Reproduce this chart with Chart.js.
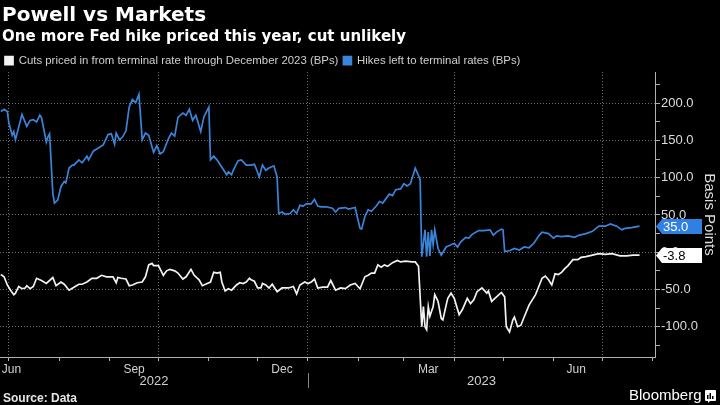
<!DOCTYPE html>
<html>
<head>
<meta charset="utf-8">
<script src="https://cdn.jsdelivr.net/npm/chart.js@4.4.0/dist/chart.umd.min.js"></script>
<style>
  html, body { margin: 0; padding: 0; background: #000; }
  #wrap { position: relative; width: 720px; height: 405px; background: #000; overflow: hidden; }
  #chart { position: absolute; left: 0; top: 0; }
  .title { position: absolute; left: 2px; top: 4px; color: #fff; font: bold 20px/20px "DejaVu Sans", sans-serif; white-space: nowrap; }
  .subtitle { position: absolute; left: 2px; top: 29px; color: #fff; font: bold 15px/15px "DejaVu Sans", sans-serif; white-space: nowrap; }
  .source { position: absolute; left: 3px; top: 392px; color: #e6e6e6; font: bold 12px/12px "Liberation Sans", Arial, sans-serif; }
  .brand { position: absolute; left: 629px; top: 387px; color: #fff; font: 15px/15px "Liberation Sans", Arial, sans-serif; }
  .logo { position: absolute; left: 705px; top: 390px; }
</style>
</head>
<body>
<div id="wrap">
  <canvas id="chart" width="720" height="405"></canvas>
  <div class="title">Powell vs Markets</div>
  <div class="subtitle">One more Fed hike priced this year, cut unlikely</div>
  <div class="source">Source: Data</div>
  <div class="brand">Bloomberg</div>
  <svg class="logo" width="11" height="13" viewBox="0 0 11 13">
    <path d="M1 0h9a1 1 0 0 1 1 1v9a1 1 0 0 1-1 1H5l-2 2v-2H1a1 1 0 0 1-1-1V1a1 1 0 0 1 1-1z" fill="#fff"/>
    <rect x="2" y="5" width="1.5" height="4" fill="#000"/>
    <rect x="4.5" y="3" width="1.5" height="6" fill="#000"/>
    <rect x="7" y="6" width="1.5" height="3" fill="#000"/>
  </svg>
</div>
<script>
// series: hikes left to terminal rate (blue)
const blueDates = [
  '2022-06-26','2022-06-28','2022-06-30','2022-07-01','2022-07-03','2022-07-04','2022-07-05','2022-07-07','2022-07-09','2022-07-12',
  '2022-07-14','2022-07-16','2022-07-18','2022-07-20','2022-07-21','2022-07-24','2022-07-25','2022-07-26','2022-07-28','2022-07-29',
  '2022-07-31','2022-08-02','2022-08-04','2022-08-05','2022-08-07','2022-08-09','2022-08-10','2022-08-13','2022-08-15','2022-08-18',
  '2022-08-19','2022-08-22','2022-08-25','2022-08-28','2022-08-31','2022-09-02','2022-09-04','2022-09-05','2022-09-07','2022-09-09',
  '2022-09-11','2022-09-13','2022-09-15','2022-09-17','2022-09-19','2022-09-21','2022-09-23','2022-09-25','2022-09-28','2022-09-30',
  '2022-10-02','2022-10-04','2022-10-07','2022-10-09','2022-10-11','2022-10-13','2022-10-16','2022-10-18','2022-10-20','2022-10-22',
  '2022-10-24','2022-10-27','2022-10-29','2022-11-01','2022-11-02','2022-11-04','2022-11-06','2022-11-09','2022-11-12','2022-11-13',
  '2022-11-15','2022-11-16','2022-11-19','2022-11-21','2022-11-24','2022-11-27','2022-11-29','2022-11-30','2022-12-02','2022-12-04',
  '2022-12-06','2022-12-08','2022-12-11','2022-12-13','2022-12-14','2022-12-16','2022-12-18','2022-12-21','2022-12-23','2022-12-25',
  '2022-12-27','2022-12-29','2022-12-31','2023-01-03','2023-01-05','2023-01-07','2023-01-09','2023-01-12','2023-01-16','2023-01-18',
  '2023-01-20','2023-01-24','2023-01-26','2023-01-30','2023-02-02','2023-02-03','2023-02-05','2023-02-07','2023-02-09','2023-02-12',
  '2023-02-14','2023-02-16','2023-02-20','2023-02-22','2023-02-24','2023-02-27','2023-03-01','2023-03-03','2023-03-05','2023-03-08',
  '2023-03-10','2023-03-11','2023-03-12','2023-03-14','2023-03-15','2023-03-16','2023-03-17','2023-03-18','2023-03-19','2023-03-20',
  '2023-03-22','2023-03-24','2023-03-27','2023-03-29','2023-04-01','2023-04-03','2023-04-05','2023-04-08','2023-04-10','2023-04-12',
  '2023-04-16','2023-04-19','2023-04-23','2023-04-25','2023-04-27','2023-04-30','2023-05-01','2023-05-02','2023-05-05','2023-05-08',
  '2023-05-11','2023-05-14','2023-05-17','2023-05-20','2023-05-23','2023-05-25','2023-05-29','2023-06-01','2023-06-03','2023-06-06',
  '2023-06-10','2023-06-14','2023-06-17','2023-06-21','2023-06-25','2023-06-29','2023-07-03','2023-07-06','2023-07-10','2023-07-13',
  '2023-07-15','2023-07-19','2023-07-24'
];
const blueValues = [
  189, 192, 189, 173, 157, 162, 151, 168, 185, 169,
  177, 178, 175, 184, 181, 148, 155, 159, 79, 66,
  70, 88, 95, 93, 113, 117, 117, 124, 120, 129,
  124, 136, 140, 144, 158, 159, 145, 160, 151, 155,
  163, 195, 205, 201, 212, 151, 160, 157, 134, 143,
  132, 135, 152, 160, 156, 181, 187, 184, 192, 177,
  184, 162, 182, 195, 124, 129, 124, 114, 104, 108,
  104, 110, 123, 124, 117, 117, 118, 113, 101, 117,
  110, 113, 116, 101, 52, 54, 51, 52, 57, 52,
  63, 62, 65, 65, 71, 62, 61, 61, 59, 54,
  59, 60, 58, 60, 32, 31, 48, 57, 55, 62,
  68, 66, 78, 76, 84, 85, 92, 89, 92, 113,
  103, 97, -6, 30, -6, 27, -5, 30, 10, 30,
  5, -4, 7, 9, 12, 7, 14, 20, 19, 24,
  29, 29, 30, 23, 27, 31, 30, 1, 2, 5,
  3, 7, 6, 12, 22, 27, 25, 19, 22, 21,
  22, 20, 23, 25, 28, 35, 35, 38, 35, 30,
  32, 33, 35.0
];

// series: cuts priced in through December 2023 (white)
const whiteDates = [
  '2022-06-26','2022-06-28','2022-06-30','2022-07-02','2022-07-04','2022-07-05','2022-07-07','2022-07-09','2022-07-11','2022-07-12',
  '2022-07-14','2022-07-16','2022-07-18','2022-07-21','2022-07-24','2022-07-28','2022-07-30','2022-08-02','2022-08-04','2022-08-07',
  '2022-08-10','2022-08-13','2022-08-15','2022-08-18','2022-08-21','2022-08-24','2022-08-27','2022-08-30','2022-09-03','2022-09-05',
  '2022-09-06','2022-09-08','2022-09-11','2022-09-13','2022-09-15','2022-09-18','2022-09-21','2022-09-23','2022-09-25','2022-09-27',
  '2022-09-28','2022-10-01','2022-10-04','2022-10-06','2022-10-08','2022-10-11','2022-10-13','2022-10-16','2022-10-18','2022-10-21',
  '2022-10-23','2022-10-26','2022-10-28','2022-10-31','2022-11-02','2022-11-04','2022-11-06','2022-11-08','2022-11-09','2022-11-11',
  '2022-11-13','2022-11-15','2022-11-18','2022-11-20','2022-11-22','2022-11-24','2022-11-26','2022-11-27','2022-11-29','2022-12-01',
  '2022-12-03','2022-12-04','2022-12-06','2022-12-08','2022-12-10','2022-12-13','2022-12-16','2022-12-20','2022-12-23','2022-12-25',
  '2022-12-27','2022-12-30','2023-01-01','2023-01-03','2023-01-05','2023-01-07','2023-01-10','2023-01-13','2023-01-15','2023-01-18',
  '2023-01-21','2023-01-24','2023-01-27','2023-01-30','2023-02-02','2023-02-05','2023-02-07','2023-02-09','2023-02-11','2023-02-13',
  '2023-02-15','2023-02-17','2023-02-19','2023-02-22','2023-02-25','2023-02-27','2023-03-02','2023-03-06','2023-03-08','2023-03-10',
  '2023-03-11','2023-03-12','2023-03-13','2023-03-14','2023-03-15','2023-03-16','2023-03-17','2023-03-19','2023-03-20','2023-03-22',
  '2023-03-24','2023-03-25','2023-03-27','2023-03-28','2023-03-30','2023-04-01','2023-04-04','2023-04-06','2023-04-09','2023-04-11',
  '2023-04-13','2023-04-15','2023-04-18','2023-04-21','2023-04-22','2023-04-24','2023-04-27','2023-04-30','2023-05-02','2023-05-03',
  '2023-05-05','2023-05-07','2023-05-08','2023-05-10','2023-05-12','2023-05-14','2023-05-17','2023-05-19','2023-05-21','2023-05-23',
  '2023-05-25','2023-05-27','2023-05-29','2023-05-31','2023-06-02','2023-06-04','2023-06-06','2023-06-08','2023-06-10','2023-06-13',
  '2023-06-16','2023-06-18','2023-06-21','2023-06-25','2023-06-29','2023-07-03','2023-07-07','2023-07-12','2023-07-16','2023-07-20',
  '2023-07-24'
];
const whiteValues = [
  -30, -33, -44, -51, -57, -55, -46, -49, -48, -45,
  -49, -46, -35, -38, -42, -34, -45, -40, -43, -51,
  -47, -43, -43, -40, -35, -35, -31, -33, -33, -41,
  -34, -35, -36, -45, -44, -41, -40, -33, -17, -15,
  -18, -18, -31, -25, -23, -25, -28, -36, -33, -23,
  -31, -37, -45, -42, -40, -27, -28, -27, -40, -52,
  -49, -51, -44, -41, -42, -40, -35, -37, -39, -48,
  -48, -42, -44, -48, -43, -53, -48, -48, -46, -56,
  -44, -40, -42, -40, -36, -48, -47, -47, -38, -51,
  -48, -49, -44, -42, -49, -33, -31, -28, -28, -17,
  -20, -17, -19, -14, -11, -13, -12, -13, -13, -19,
  -60, -100, -73, -100, -104, -73, -86, -73, -57, -66,
  -89, -91, -71, -62, -55, -62, -84, -77, -62, -69,
  -64, -53, -48, -55, -52, -66, -60, -54, -60, -100,
  -107, -91, -87, -100, -98, -87, -71, -64, -57, -46,
  -35, -32, -37, -44, -29, -30, -27, -22, -18, -10,
  -10, -7, -6, -4, -2, -3, -2, -5, -5, -4,
  -3.8
];

const seriesNames = ['Cuts priced in from terminal rate through December 2023 (BPs)', 'Hikes left to terminal rates (BPs)'];

// axis ticks
const monthStarts = ['2022-07-01','2022-08-01','2022-09-01','2022-10-01','2022-11-01','2022-12-01','2023-01-01',
  '2023-02-01','2023-03-01','2023-04-01','2023-05-01','2023-06-01','2023-07-01','2023-08-01'];
const gridMonths = ['2022-07-01','2022-10-01','2023-01-01','2023-04-01','2023-07-01'];
const monthLabels = ['Jun','Sep','Dec','Mar','Jun'];
const monthLabelDates = ['2022-06-15','2022-09-16','2022-12-16','2023-03-16','2023-06-15'];
const yearLabels = ['2022','2023'];
const yearBreak = '2023-01-01';
const yTickValues = [-125,-100,-75,-50,-25,0,25,50,75,100,125,150,175,200,225];

const EPOCH = Date.parse('2022-07-01');
const dayOf = s => (Date.parse(s) - EPOCH) / 864e5;

const xMin = dayOf('2022-06-25') + 0.5;
const xMax = dayOf('2023-08-02') + 0.5;
const yMin = -140.7;
const yMax = 242;

const WHITE = '#f2f2f2';
const BLUE = '#3a85d9';
const GRID = 'rgba(150,150,150,0.75)';
const AXIS = '#b0b0b0';

Chart.defaults.font.family = '"Liberation Sans", Arial, sans-serif';
Chart.defaults.color = '#d0d0d0';

const gridSet = new Set(gridMonths.map(dayOf));
const xTicks = monthStarts.map(d => ({ value: dayOf(d), kind: 'month' }))
  .concat(monthLabelDates.map((d, i) => ({ value: Math.max(dayOf(d), xMin + 7), kind: 'label', text: monthLabels[i] })))
  .sort((a, b) => a.value - b.value);

// last value tags on the right axis
const lastTags = {
  id: 'lastTags',
  afterDraw(chart) {
    const { ctx } = chart;
    const ys = chart.scales.y;
    const x0 = ys.left + 1;
    chart.data.datasets.forEach(ds => {
      const last = ds.data[ds.data.length - 1];
      const py = Math.round(ys.getPixelForValue(last.y)) + 0.5;
      ctx.save();
      ctx.fillStyle = ds.tagFill;
      ctx.beginPath();
      ctx.moveTo(x0, py);
      ctx.lineTo(x0 + 6, py - 7.5);
      ctx.lineTo(x0 + 46, py - 7.5);
      ctx.lineTo(x0 + 46, py + 7.5);
      ctx.lineTo(x0 + 6, py + 7.5);
      ctx.closePath();
      ctx.fill();
      ctx.fillStyle = ds.tagText;
      ctx.font = '13px "Liberation Sans", Arial, sans-serif';
      ctx.textBaseline = 'middle';
      ctx.textAlign = 'left';
      ctx.fillText(last.y.toFixed(1), x0 + 7, py + 0.5);
      ctx.restore();
    });
  }
};

// year row under the month labels
const yearRow = {
  id: 'yearRow',
  afterDraw(chart) {
    const { ctx } = chart;
    const xs = chart.scales.x;
    const brk = xs.getPixelForValue(dayOf(yearBreak));
    const spans = [[xs.left, brk], [brk, xs.right]];
    ctx.save();
    ctx.strokeStyle = '#888';
    ctx.lineWidth = 1;
    ctx.beginPath();
    ctx.moveTo(Math.round(brk) + 0.5, 373);
    ctx.lineTo(Math.round(brk) + 0.5, 388);
    ctx.stroke();
    ctx.fillStyle = '#d0d0d0';
    ctx.font = '13px "Liberation Sans", Arial, sans-serif';
    ctx.textAlign = 'center';
    ctx.textBaseline = 'middle';
    yearLabels.forEach((t, i) => ctx.fillText(t, (spans[i][0] + spans[i][1]) / 2, 381));
    ctx.restore();
  }
};

new Chart(document.getElementById('chart'), {
  type: 'line',
  data: {
    datasets: [
      {
        label: seriesNames[0],
        data: whiteDates.map((d, i) => ({ x: dayOf(d), y: whiteValues[i] })),
        borderColor: WHITE, backgroundColor: WHITE,
        borderWidth: 1.7, pointRadius: 0, tension: 0,
        tagFill: '#ffffff', tagText: '#000000'
      },
      {
        label: seriesNames[1],
        data: blueDates.map((d, i) => ({ x: dayOf(d), y: blueValues[i] })),
        borderColor: BLUE, backgroundColor: BLUE,
        borderWidth: 1.7, pointRadius: 0, tension: 0,
        tagFill: '#2f80e0', tagText: '#ffffff'
      }
    ]
  },
  options: {
    responsive: false,
    animation: false,
    parsing: false,
    layout: { padding: { top: 50, left: 0, right: 0, bottom: 0 } },
    plugins: {
      legend: {
        position: 'top', align: 'start', maxHeight: 22,
        labels: { boxWidth: 8, boxHeight: 8, padding: 5, color: '#cfcfcf', font: { size: 11.4 } }
      },
      tooltip: { enabled: false }
    },
    scales: {
      x: {
        type: 'linear', min: xMin, max: xMax,
        afterBuildTicks: s => { s.ticks = xTicks.map(t => Object.assign({}, t)); },
        afterFit: s => { s.height = 48; },
        grid: {
          color: c => (c.tick && c.tick.kind === 'month' && gridSet.has(c.tick.value)) ? GRID : 'transparent',
          tickColor: c => (c.tick && c.tick.kind === 'month') ? AXIS : 'transparent',
          tickLength: 4
        },
        border: { color: AXIS, dash: [1, 2] },
        ticks: {
          autoSkip: false, maxRotation: 0, padding: 1,
          color: '#d0d0d0', font: { size: 12 },
          callback: (v, i, ticks) => ticks[i].text || ''
        }
      },
      y: {
        position: 'right', min: yMin, max: yMax,
        afterBuildTicks: s => { s.ticks = yTickValues.map(v => ({ value: v })); },
        afterFit: s => { s.width = 65; },
        grid: {
          color: c => (c.tick && c.tick.value % 50 === 0) ? GRID : 'transparent',
          tickColor: AXIS,
          tickLength: 5
        },
        border: { color: AXIS, dash: [1, 2] },
        ticks: {
          padding: 1, color: '#dcdcdc', font: { size: 13 },
          callback: v => (v % 50 === 0 ? v.toFixed(1) : '')
        },
        title: {
          display: true, text: 'Basis Points', color: '#dcdcdc',
          font: { size: 15 }, padding: { top: 2, bottom: 0 }
        }
      }
    }
  },
  plugins: [lastTags, yearRow]
});
</script>
</body>
</html>
